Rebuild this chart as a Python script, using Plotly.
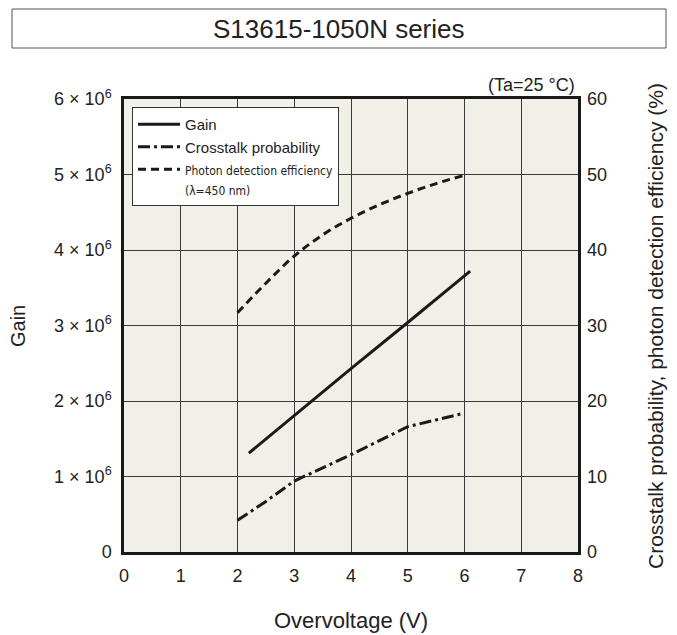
import plotly.graph_objects as go

# ---- data ----
gain_voltage = [2.2, 3.0, 4.0, 5.0, 6.1]
gain_values = [1.31e6, 1.81e6, 2.43e6, 3.04e6, 3.72e6]

crosstalk_voltage = [2.0, 2.5, 3.0, 3.5, 4.0, 5.0, 6.0]
crosstalk_values = [4.2, 6.7, 9.4, 11.1, 12.9, 16.6, 18.4]

pde_voltage = [2.0, 2.5, 3.0, 3.5, 4.0, 4.5, 5.0, 5.5, 6.0]
pde_values = [31.7, 35.6, 39.2, 42.0, 44.2, 46.0, 47.5, 48.8, 49.9]

x_ticks = [0, 1, 2, 3, 4, 5, 6, 7, 8]
gain_ticks = [0, 1e6, 2e6, 3e6, 4e6, 5e6, 6e6]
gain_tick_text = ["0", "1 × 10<sup>6</sup>", "2 × 10<sup>6</sup>", "3 × 10<sup>6</sup>",
                  "4 × 10<sup>6</sup>", "5 × 10<sup>6</sup>", "6 × 10<sup>6</sup>"]
pct_ticks = [0, 10, 20, 30, 40, 50, 60]

# ---- layout geometry (pixels) ----
W, H = 677, 635
L, R, T, B = 124, 578, 99, 552

def px(x):
    return (x - L) / (R - L)

def py(y):
    return (B - y) / (B - T)

FONT = "Liberation Sans, Arial, sans-serif"
INK = "#1a1a1a"

fig = go.Figure()

fig.add_trace(go.Scatter(
    x=gain_voltage, y=gain_values, mode="lines", name="Gain",
    line=dict(color=INK, width=3), yaxis="y"))

fig.add_trace(go.Scatter(
    x=crosstalk_voltage, y=crosstalk_values, mode="lines", name="Crosstalk probability",
    line=dict(color=INK, width=3, dash="12px,4px,3px,4px"), yaxis="y2"))

fig.add_trace(go.Scatter(
    x=pde_voltage, y=pde_values, mode="lines",
    name='<span style="font-family:DejaVu Sans Condensed, Liberation Sans;font-size:12px">Photon detection efficiency<br>(λ=450 nm)</span>',
    line=dict(color=INK, width=3, dash="8px,5px", shape="spline"), yaxis="y2"))

axis_common = dict(
    showgrid=True, gridcolor="#3a3a3a", gridwidth=1,
    zeroline=False, ticks="", tickfont=dict(family=FONT, size=18, color="#222"),
)

fig.update_layout(
    width=W, height=H, autosize=False,
    margin=dict(l=L, r=W - R, t=T, b=H - B),
    paper_bgcolor="white", plot_bgcolor="#f1f0e8",
    font=dict(family=FONT, color="#222"),
    showlegend=True,
    legend=dict(
        x=px(132), y=py(107), xanchor="left", yanchor="top",
        bgcolor="white", bordercolor="#333", borderwidth=1,
        font=dict(family=FONT, size=15, color="#222"),
        itemwidth=42, valign="top", tracegroupgap=0,
    ),
    xaxis=dict(
        range=[0, 8], tickvals=x_ticks, showline=True, linecolor=INK, linewidth=2.5,
        mirror=True, ticklabelstandoff=6, **axis_common),
    yaxis=dict(
        range=[0, 6e6], tickvals=gain_ticks, ticktext=gain_tick_text,
        showline=True, linecolor=INK, linewidth=2.5, mirror=True,
        ticklabelstandoff=6, **axis_common),
    yaxis2=dict(
        range=[0, 60], tickvals=pct_ticks, overlaying="y", side="right",
        showgrid=False, zeroline=False, ticks="", showline=False,
        ticklabelstandoff=8, tickfont=dict(family=FONT, size=18, color="#222")),
    shapes=[
        dict(type="rect", xref="paper", yref="paper",
             x0=px(12), x1=px(666), y0=py(48), y1=py(9),
             line=dict(color="#555", width=1), fillcolor="rgba(0,0,0,0)"),
    ],
    annotations=[
        dict(text="S13615-1050N series", xref="paper", yref="paper",
             x=px(339), y=py(29), xanchor="center", yanchor="middle",
             showarrow=False, font=dict(family=FONT, size=26, color="#222")),
        dict(text="(Ta=25 °C)", xref="paper", yref="paper",
             x=px(577), y=py(85), xanchor="right", yanchor="middle",
             showarrow=False, font=dict(family=FONT, size=18, color="#222")),
        dict(text="Overvoltage (V)", xref="paper", yref="paper",
             x=px(351), y=py(620), xanchor="center", yanchor="middle",
             showarrow=False, font=dict(family=FONT, size=22, color="#222")),
        dict(text="Gain", xref="paper", yref="paper",
             x=px(18), y=py(326), xanchor="center", yanchor="middle", textangle=-90,
             showarrow=False, font=dict(family=FONT, size=20, color="#222")),
        dict(text="Crosstalk probability, photon detection efficiency (%)",
             xref="paper", yref="paper",
             x=px(655), y=py(326), xanchor="center", yanchor="middle", textangle=-90,
             showarrow=False, font=dict(family=FONT, size=21, color="#222")),
    ],
)

fig.write_html("out.html", config={"displayModeBar": False},
               post_script="document.body.style.margin='0';document.body.style.overflow='hidden';")
